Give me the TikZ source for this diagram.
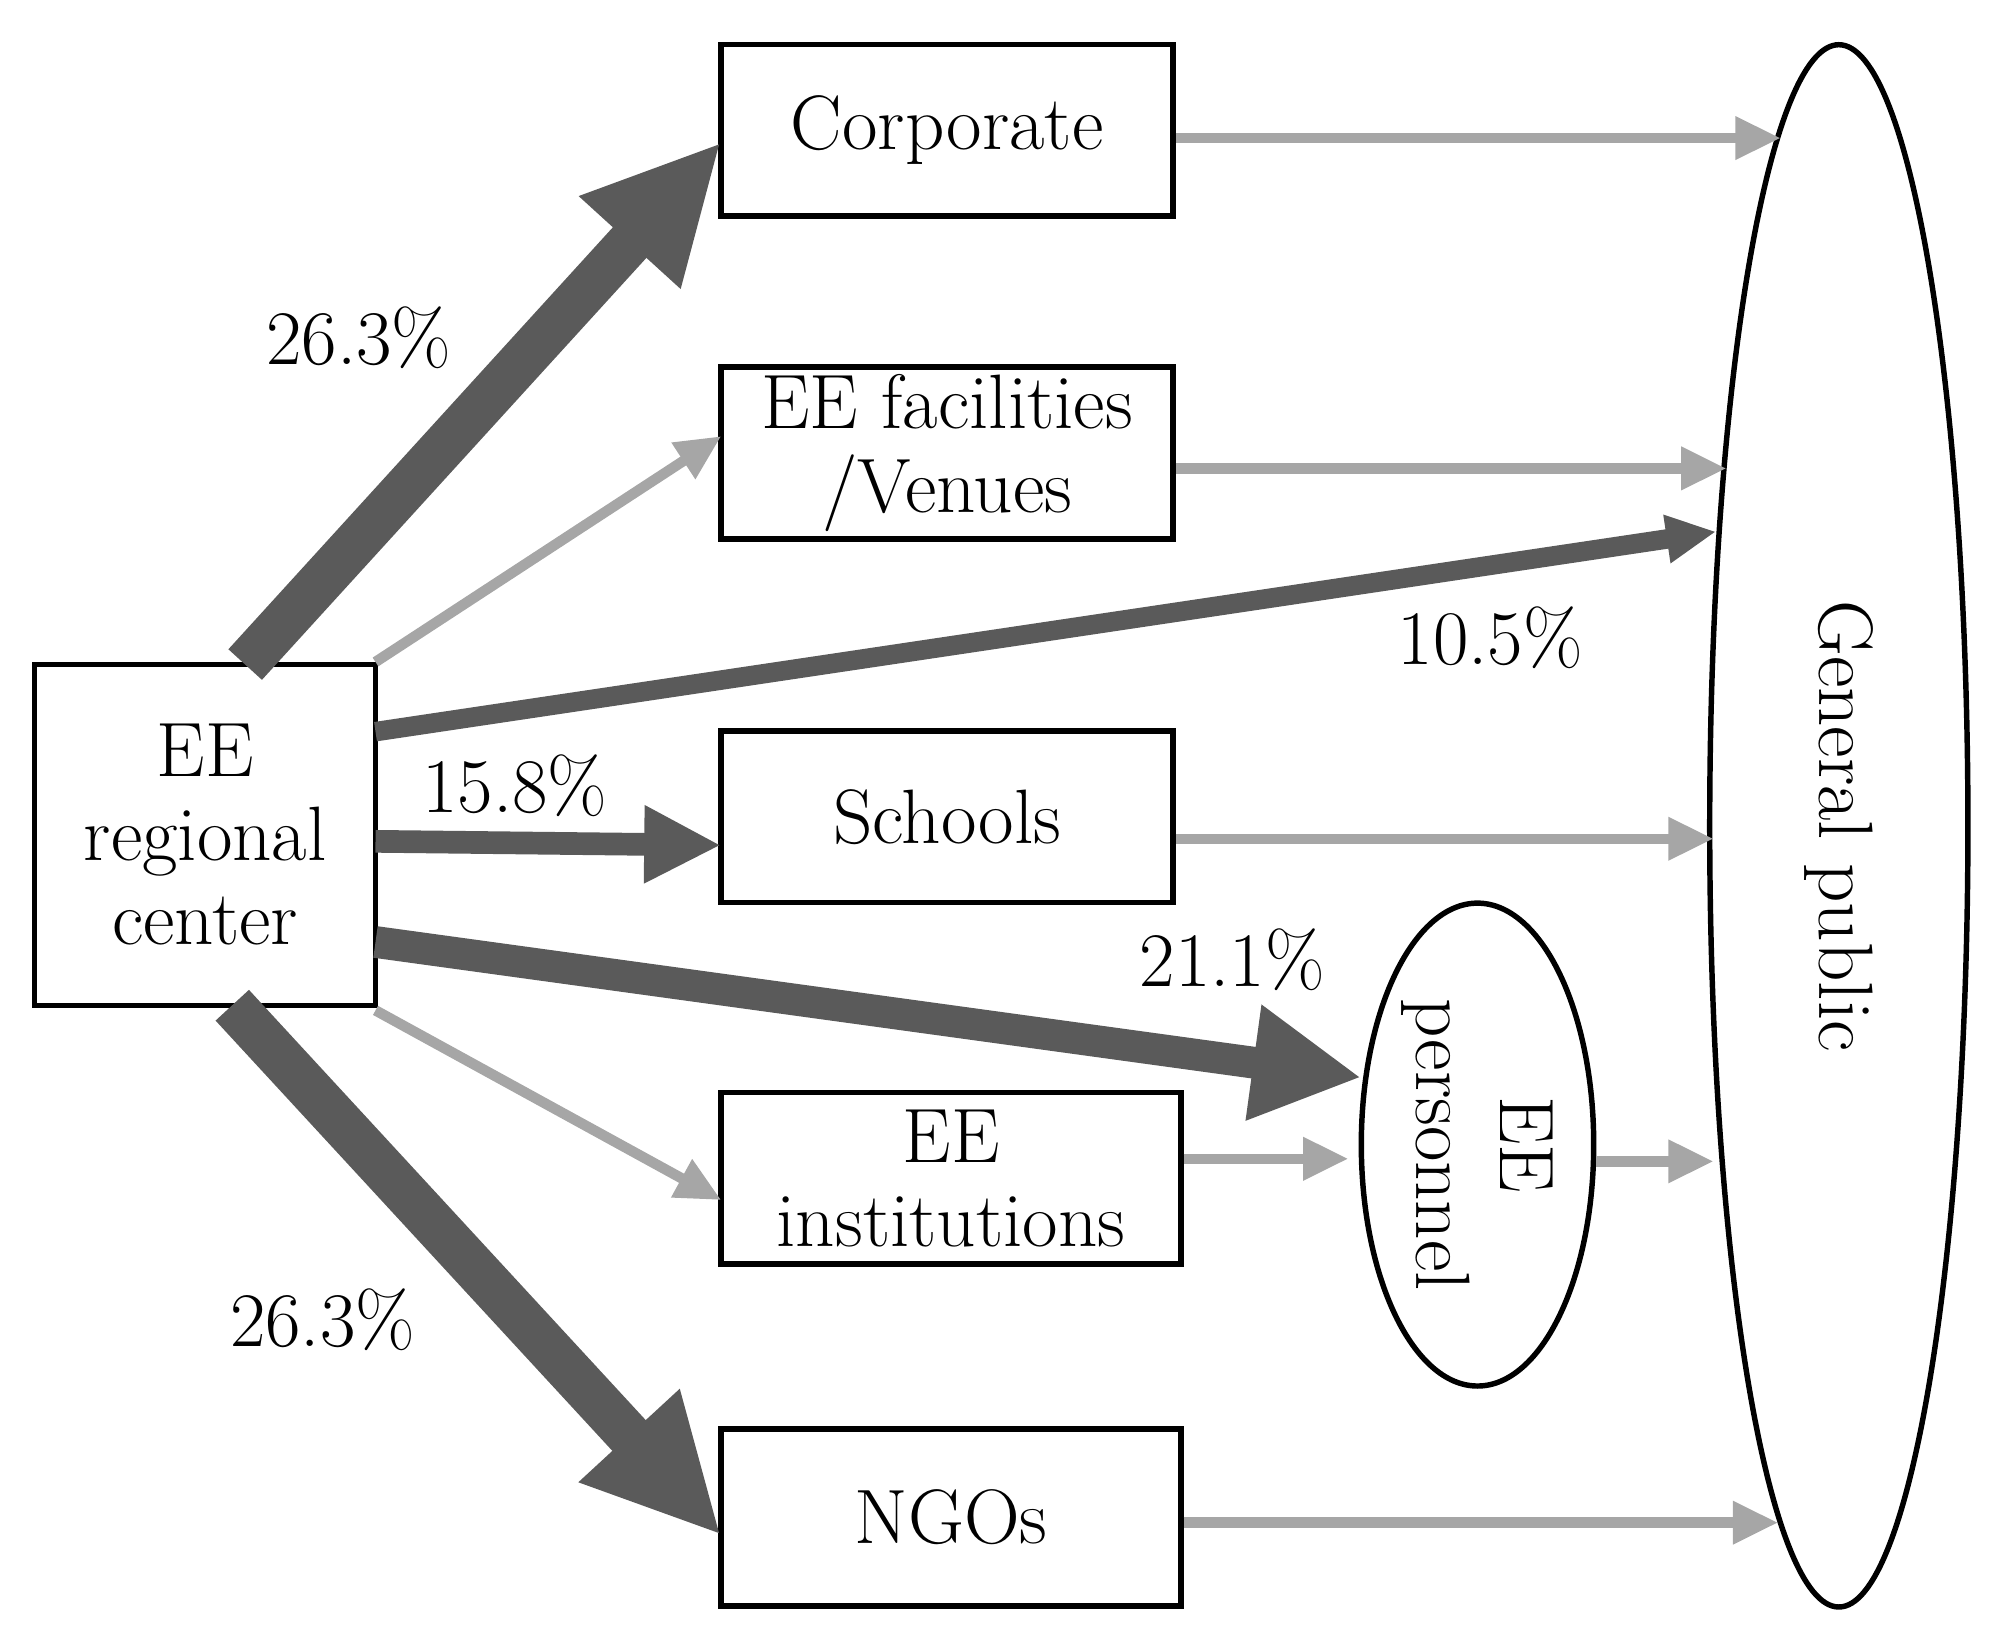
\documentclass[tikz,border=0pt]{standalone}
\usetikzlibrary{arrows.meta,shapes.geometric}
\definecolor{dk}{HTML}{5A5A5A}
\definecolor{lt}{HTML}{A6A6A6}
\begin{document}
\begin{tikzpicture}[x=0.01cm,y=-0.01cm,
  bx/.style={draw,line width=1.2pt,align=center,inner sep=0pt,font=\fontsize{17}{18.5}\selectfont},
  el/.style={draw,ellipse,line width=1.2pt,inner sep=0pt,font=\fontsize{17}{18.5}\selectfont},
  lab/.style={font=\fontsize{17}{18.5}\selectfont},
  la/.style={lt,line width=2.3pt,-{Triangle[length=10pt,width=9pt]}},
  da/.style={dk,line width=#1}]
\useasboundingbox (0,0) rectangle (1553,1261);
\node[bx,minimum width=2.64cm,minimum height=2.64cm] (rc) at (159,647) {EE\\regional\\center};
\node[bx,minimum width=3.5cm,minimum height=1.33cm] (co) at (734,101) {Corporate};
\node[bx,minimum width=3.5cm,minimum height=1.33cm] (fa) at (734,351) {EE facilities\\/Venues};
\node[bx,minimum width=3.5cm,minimum height=1.33cm] (sc) at (734,633) {Schools};
\node[bx,minimum width=3.56cm,minimum height=1.33cm] (in) at (737,913) {EE\\institutions};
\node[bx,minimum width=3.56cm,minimum height=1.37cm] (ng) at (737,1176) {NGOs};
\node[el,minimum width=1.8cm,minimum height=3.74cm] (pe) at (1145,887) {};
\node[rotate=-90,align=center,font=\fontsize{17}{18.5}\selectfont] at (pe) {EE\\personnel};
\node[el,minimum width=2cm,minimum height=12.1cm] (gp) at (1425,640) {};
\node[rotate=-90,font=\fontsize{17}{18.5}\selectfont] at (gp) {General public};
% dark arrows
\coordinate (c1) at (190,515); \coordinate (c1e) at (559,110);
\draw[da=10pt,-{Triangle[length=30pt,width=28pt]}] (c1) -- (c1e);
\coordinate (n1) at (180,779); \coordinate (n1e) at (559,1190);
\draw[da=10pt,-{Triangle[length=30pt,width=28pt]}] (n1) -- (n1e);
\coordinate (t1) at (291,567); \coordinate (t1e) at (1330,412);
\draw[da=4.3pt,-{Triangle[length=11pt,width=10pt]}] (t1) -- (t1e);
\coordinate (s1) at (291,652); \coordinate (s1e) at (559,655);
\draw[da=5pt,-{Triangle[length=17pt,width=16pt]}] (s1) -- (s1e);
\coordinate (p1) at (291,730); \coordinate (p1e) at (1055,835);
\draw[da=7pt,-{Triangle[length=24pt,width=24pt]}] (p1) -- (p1e);
% light arrows
\coordinate (f1) at (291,513); \coordinate (f1e) at (559,338);
\draw[la] (f1) -- (f1e);
\coordinate (i1) at (291,783); \coordinate (i1e) at (559,930);
\draw[la] (i1) -- (i1e);
\coordinate (g1) at (1380,107); \draw[la] (co.east |- 0,107) -- (g1);
\coordinate (g2) at (1338,363); \draw[la] (fa.east |- 0,363) -- (g2);
\coordinate (g3) at (1328,650); \draw[la] (sc.east |- 0,650) -- (g3);
\coordinate (g4) at (1045,898); \draw[la] (in.east |- 0,898) -- (g4);
\coordinate (g5) at (1328,900); \draw[la] (pe.east |- 0,900) -- (g5);
\coordinate (g6) at (1378,1180); \draw[la] (ng.east |- 0,1180) -- (g6);
% labels
\node[lab] (l1) at (278,262) {26.3\%};
\node[lab] (l2) at (1155,494) {10.5\%};
\node[lab] (l3) at (399,609) {15.8\%};
\node[lab] (l4) at (955,744) {21.1\%};
\node[lab] (l5) at (250,1023) {26.3\%};
\end{tikzpicture}
\end{document}
